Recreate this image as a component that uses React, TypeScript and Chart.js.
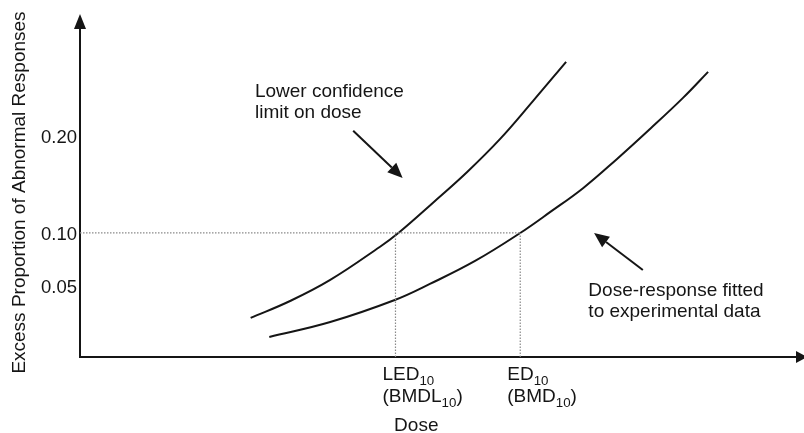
import React, { useEffect, useRef } from 'react';
import { Chart, registerables, LinearScale } from 'chart.js';

// ---- data ----
const DOSE_LCL = [23.8, 29.3, 34.9, 41.8, 44.4, 49.2, 54.0, 58.6, 63.2, 67.8];
const RESP_LCL = [0.0275, 0.0394, 0.0557, 0.0868, 0.1, 0.1313, 0.1635, 0.1979, 0.2375, 0.2781];
const DOSE_FIT = [26.4, 34.9, 43.9, 48.8, 55.1, 61.4, 65.6, 70.2, 74.9, 79.5, 84.1, 87.6];
const RESP_FIT = [0.0141, 0.0246, 0.0401, 0.0519, 0.0736, 0.1, 0.1219, 0.1469, 0.1771, 0.2083, 0.2406, 0.2677];
const BENCHMARK_RESPONSE = 0.1;
const LED10 = 44.0;
const ED10 = 61.4;
const Y_TICKS = [0.05, 0.1, 0.2];
const X_MAX = 100;
const Y_TITLE = 'Excess Proportion of Abnormal Responses';
const X_TITLE = 'Dose';
const X_TITLE_DOSE = 46.9;
const X_LABEL_TEXT = [
  ['LED_{10}', '(BMDL_{10})'],
  ['ED_{10}', '(BMD_{10})'],
];
const X_LABEL_DOSE = [LED10, ED10];
const NOTE_TEXT = [
  ['Lower confidence', 'limit on dose'],
  ['Dose-response fitted', 'to experimental data'],
];
const NOTE_ANCHOR = [
  [24.4, 0.2417],
  [70.9, 0.043],
];
const NOTE_ARROW_FROM = [
  [38.1, 0.2063],
  [78.5, 0.0651],
];
const NOTE_ARROW_TO = [
  [45.0, 0.1573],
  [71.7, 0.1],
];

// schematic (non-linear) response axis: value breakpoints and their share of the axis height
const Y_BREAK_VALUES = [0, 0.05, 0.1, 0.2];
const Y_BREAK_FRACTIONS = [0, 0.216, 0.377, 0.669];

const FONT = '"Liberation Sans", Arial, Helvetica, sans-serif';
const INK = '#151515';
const DOT = '#8a8a8a';

function valueToFraction(v: number): number {
  const vals = Y_BREAK_VALUES;
  const fr = Y_BREAK_FRACTIONS;
  let i = 0;
  while (i < vals.length - 2 && v > vals[i + 1]) i++;
  const t = (v - vals[i]) / (vals[i + 1] - vals[i]);
  return fr[i] + t * (fr[i + 1] - fr[i]);
}
function fractionToValue(f: number): number {
  const vals = Y_BREAK_VALUES;
  const fr = Y_BREAK_FRACTIONS;
  let i = 0;
  while (i < fr.length - 2 && f > fr[i + 1]) i++;
  const t = (f - fr[i]) / (fr[i + 1] - fr[i]);
  return vals[i] + t * (vals[i + 1] - vals[i]);
}

class PiecewiseScale extends LinearScale {
  static id = 'piecewise';
  static defaults = LinearScale.defaults;
  getPixelForValue(value: any) {
    if (value === null || value === undefined || isNaN(value)) return NaN;
    return this.getPixelForDecimal(valueToFraction(+value));
  }
  getValueForPixel(pixel: number) {
    return fractionToValue(this.getDecimalForPixel(pixel));
  }
}

Chart.register(...registerables, PiecewiseScale);

function drawRich(ctx: CanvasRenderingContext2D, text: string, x: number, y: number, size: number) {
  const parts = text.split(/_\{([^}]*)\}/);
  let cx = x;
  parts.forEach((p, i) => {
    if (!p) return;
    const sub = i % 2 === 1;
    ctx.font = `${sub ? size * 0.7 : size}px ${FONT}`;
    ctx.fillText(p, cx, y + (sub ? 5 : 0));
    cx += ctx.measureText(p).width;
  });
}

function drawArrow(ctx: CanvasRenderingContext2D, x1: number, y1: number, x2: number, y2: number) {
  const ang = Math.atan2(y2 - y1, x2 - x1);
  const len = 15;
  const half = 6.5;
  const bx = x2 - Math.cos(ang) * len;
  const by = y2 - Math.sin(ang) * len;
  ctx.beginPath();
  ctx.moveTo(x1, y1);
  ctx.lineTo(bx, by);
  ctx.lineWidth = 2;
  ctx.strokeStyle = INK;
  ctx.stroke();
  ctx.beginPath();
  ctx.moveTo(x2, y2);
  ctx.lineTo(bx + Math.sin(ang) * half, by - Math.cos(ang) * half);
  ctx.lineTo(bx - Math.sin(ang) * half, by + Math.cos(ang) * half);
  ctx.closePath();
  ctx.fillStyle = INK;
  ctx.fill();
}

const overlayPlugin = {
  id: 'overlay',
  afterDraw(chart: any) {
    const { ctx, chartArea } = chart;
    const xs = chart.scales.x;
    const ys = chart.scales.y;
    ctx.save();
    ctx.fillStyle = INK;
    // axis arrow heads
    const L = chartArea.left;
    const B = chartArea.bottom;
    ctx.beginPath();
    ctx.moveTo(L, chartArea.top - 14);
    ctx.lineTo(L - 6, chartArea.top + 1);
    ctx.lineTo(L + 6, chartArea.top + 1);
    ctx.closePath();
    ctx.fill();
    ctx.beginPath();
    ctx.moveTo(chartArea.right + 10, B);
    ctx.lineTo(chartArea.right - 1, B - 6);
    ctx.lineTo(chartArea.right - 1, B + 6);
    ctx.closePath();
    ctx.fill();

    // annotations
    ctx.textBaseline = 'alphabetic';
    ctx.textAlign = 'left';
    NOTE_TEXT.forEach((lines, i) => {
      const ax = xs.getPixelForValue(NOTE_ANCHOR[i][0]);
      const ay = ys.getPixelForValue(NOTE_ANCHOR[i][1]);
      ctx.fillStyle = INK;
      ctx.font = `19px ${FONT}`;
      lines.forEach((t, k) => ctx.fillText(t, ax, ay + k * 21.5));
      drawArrow(
        ctx,
        xs.getPixelForValue(NOTE_ARROW_FROM[i][0]),
        ys.getPixelForValue(NOTE_ARROW_FROM[i][1]),
        xs.getPixelForValue(NOTE_ARROW_TO[i][0]),
        ys.getPixelForValue(NOTE_ARROW_TO[i][1])
      );
    });

    // dose labels under the axis
    ctx.fillStyle = INK;
    X_LABEL_TEXT.forEach((lines, i) => {
      const px = xs.getPixelForValue(X_LABEL_DOSE[i]) - 13;
      lines.forEach((t, k) => drawRich(ctx, t, px, B + 23 + k * 22, 19));
    });
    ctx.font = `19px ${FONT}`;
    ctx.textAlign = 'center';
    ctx.fillText(X_TITLE, xs.getPixelForValue(X_TITLE_DOSE), B + 74);
    ctx.restore();
  },
};

export default function App() {
  const ref = useRef<HTMLCanvasElement>(null);
  useEffect(() => {
    document.body.style.margin = '0';
    const canvas = ref.current;
    if (!canvas) return;
    const pts = (xs: number[], ys: number[]) => xs.map((x, i) => ({ x, y: ys[i] }));
    const dotted = {
      borderColor: DOT,
      borderWidth: 1.2,
      borderDash: [1.5, 1.5],
      pointRadius: 0,
      fill: false,
    };
    const chart = new Chart(canvas, {
      type: 'line',
      data: {
        datasets: [
          { ...dotted, label: 'benchmark response', data: [{ x: 0, y: BENCHMARK_RESPONSE }, { x: ED10, y: BENCHMARK_RESPONSE }] },
          { ...dotted, label: 'LED10', data: [{ x: LED10, y: 0 }, { x: LED10, y: BENCHMARK_RESPONSE }] },
          { ...dotted, label: 'ED10', data: [{ x: ED10, y: 0 }, { x: ED10, y: BENCHMARK_RESPONSE }] },
          {
            label: 'Lower confidence limit on dose',
            data: pts(DOSE_LCL, RESP_LCL),
            borderColor: INK,
            borderWidth: 2,
            pointRadius: 0,
            tension: 0.4,
            fill: false,
          },
          {
            label: 'Dose-response fitted to experimental data',
            data: pts(DOSE_FIT, RESP_FIT),
            borderColor: INK,
            borderWidth: 2,
            pointRadius: 0,
            tension: 0.4,
            fill: false,
          },
        ],
      },
      options: {
        animation: false,
        responsive: false,
        devicePixelRatio: 1,
        layout: { padding: { left: 0, top: 28, right: 7, bottom: 76 } },
        plugins: { legend: { display: false }, tooltip: { enabled: false } },
        events: [],
        scales: {
          x: {
            type: 'linear',
            min: 0,
            max: X_MAX,
            grid: { display: false, drawTicks: false },
            ticks: { display: false },
            border: { display: true, color: INK, width: 2 },
          },
          y: {
            type: 'piecewise' as any,
            position: 'left',
            min: 0,
            max: fractionToValue(1),
            grid: { display: false, drawTicks: false },
            border: { display: true, color: INK, width: 2 },
            ticks: {
              color: INK,
              padding: 3,
              labelOffset: 1.5,
              font: { family: FONT, size: 18.5 },
              callback: (v: any) => Number(v).toFixed(2),
            },
            afterBuildTicks: (s: any) => {
              s.ticks = Y_TICKS.map((v) => ({ value: v }));
            },
            afterFit: (s: any) => {
              s.width = 80;
            },
            title: {
              display: true,
              text: Y_TITLE,
              color: INK,
              font: { family: FONT, size: 19 },
              padding: { top: 8, bottom: 0 },
            },
          } as any,
        },
      },
      plugins: [overlayPlugin],
    } as any);
    return () => chart.destroy();
  }, []);
  return (
    <div style={{ position: 'fixed', left: 0, top: 0, width: 804, height: 433, background: '#fff' }}>
      <canvas ref={ref} width={804} height={433} style={{ display: 'block', width: 804, height: 433 }} />
    </div>
  );
}
